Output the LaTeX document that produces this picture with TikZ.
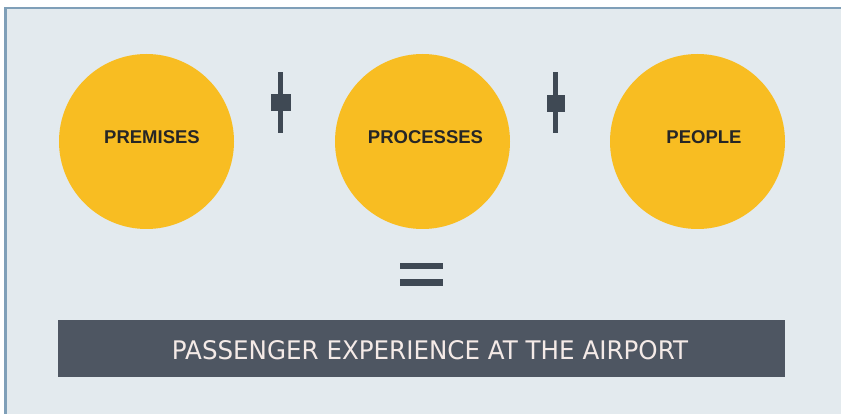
\documentclass[tikz,border=0pt]{standalone}
\usepackage{fontspec}
\setmainfont{Liberation Sans}
\newfontfamily\barfont{DejaVu Sans}
\definecolor{bgc}{HTML}{E3EAEE}
\definecolor{framec}{HTML}{7F9FB8}
\definecolor{circc}{HTML}{F8BD22}
\definecolor{darkc}{HTML}{3F4954}
\definecolor{barc}{HTML}{4E5662}
\definecolor{bartext}{HTML}{F4EAE7}
\begin{document}
\begin{tikzpicture}[x=1pt,y=-1pt,
  bubble/.style={circle,fill=circc,minimum size=175pt,inner sep=0pt},
  bubbletext/.style={font=\fontsize{18.5}{20}\selectfont\bfseries,text=black!85,inner sep=0pt,anchor=base},
  opshape/.style={fill=darkc,draw=none},
  banner/.style={fill=barc,minimum width=727pt,minimum height=57pt,inner sep=0pt}]
\useasboundingbox (0,0) rectangle (841,414);
\fill[white] (0,0) rectangle (841,414);
\fill[bgc] (5,8) rectangle (841,414);
\draw[framec,line width=2.5pt] (5.5,414) -- (5.5,8) -- (841,8);
% circles
\node[bubble] (c1) at (146.5,141.5) {};
\node[bubble] (c2) at (422.5,141.5) {};
\node[bubble] (c3) at (697.5,141.5) {};
\node[bubbletext] (t1) at (152,144) {PREMISES};
\node[bubbletext] (t2) at (425.5,144) {PROCESSES};
\node[bubbletext] (t3) at (704,144) {PEOPLE};
% plus signs
\fill[opshape] (277.5,72) rectangle (282.5,133);
\fill[opshape] (271,94) rectangle (291,111);
\fill[opshape] (553,72) rectangle (558,133);
\fill[opshape] (547,95) rectangle (565,112);
% equals
\fill[opshape] (400,263) rectangle (443,269);
\fill[opshape] (400,279) rectangle (443,286);
% banner
\node[banner] (b) at (421.5,348.5) {};
\node[text=bartext,inner sep=0pt] (bt) at (430,350.5) {\barfont\resizebox{516pt}{19pt}{PASSENGER EXPERIENCE AT THE AIRPORT}};
\end{tikzpicture}
\end{document}
